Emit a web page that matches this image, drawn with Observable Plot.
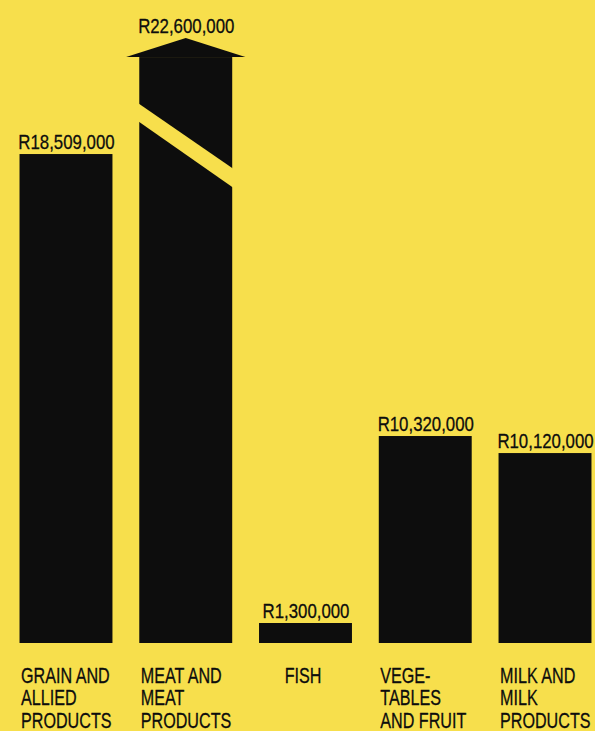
<!DOCTYPE html>
<html>
<head>
<meta charset="utf-8">
<script src="https://cdn.jsdelivr.net/npm/d3@7"></script>
<script src="https://cdn.jsdelivr.net/npm/@observablehq/plot@0.6"></script>
<style>
  html, body { margin: 0; padding: 0; background: #f7df4c; }
  #chart { width: 595px; height: 731px; overflow: hidden; }
</style>
</head>
<body>
<div id="chart"></div>
<script>
// ---- data ----
const categories = [
  "GRAIN AND\nALLIED\nPRODUCTS",
  "MEAT AND\nMEAT\nPRODUCTS",
  "FISH",
  "VEGE-\nTABLES\nAND FRUIT",
  "MILK AND\nMILK\nPRODUCTS"
];
// values printed above the bars (Rand)
const values = [18509000, 22600000, 1300000, 10320000, 10120000];
// bar lengths as actually drawn in the picture (the original is not to scale),
// read on the same vertical scale as the grain bar
const drawnHeights = [18509000, 22180000, 757000, 7835000, 7190000];
// the meat bar is broken and ends in an arrow whose tip reaches this level
const meatArrowTip = 22900000;

// ---- styling ----
const bg = "#f7df4c";
const ink = "#0d0d0d";
const font = "'Liberation Sans', Arial, sans-serif";
const hw = 0.388;          // half bar width, in category-index units
const overhang = 0.11;     // arrow head overhang beyond the bar
const meatIndex = 1;
const valueSize = 21, labelSize = 21.5;
const squeeze = {21: 0.8, 21.5: 0.75}; // condensed look, by font size

const data = categories.map((c, i) => ({
  i, category: c, value: values[i], drawn: drawnHeights[i]
}));

const meat = data[meatIndex];
const arrow = [
  {x: meatIndex - hw - overhang, y1: meat.drawn, y2: meat.drawn},
  {x: meatIndex,                 y1: meat.drawn, y2: meatArrowTip},
  {x: meatIndex + hw + overhang, y1: meat.drawn, y2: meat.drawn}
];
const brk = {leftHi: 20400000, rightHi: 17980000, leftLo: 19720000, rightLo: 17260000};
const ext = 0.03;
const slopeHi = (brk.rightHi - brk.leftHi) / (2 * hw);
const slopeLo = (brk.rightLo - brk.leftLo) / (2 * hw);
const breakBand = [
  {x: meatIndex - hw - ext, y1: brk.leftLo - slopeLo * ext, y2: brk.leftHi - slopeHi * ext},
  {x: meatIndex + hw + ext, y1: brk.rightLo + slopeLo * ext, y2: brk.rightHi + slopeHi * ext}
];

const fmt = d3.format(",");
const textStyle = {fill: ink, stroke: ink, strokeWidth: 0.3};

const chart = Plot.plot({
  width: 595,
  height: 731,
  marginTop: 0,
  marginBottom: 88,
  marginLeft: 0,
  marginRight: 0,
  x: {type: "linear", domain: [-0.551, 4.4175], axis: null},
  y: {domain: [0, 24340000], axis: null},
  style: {background: bg, fontFamily: font, color: ink},
  marks: [
    Plot.rect(data, {x1: d => d.i - hw, x2: d => d.i + hw, y1: 0, y2: "drawn", fill: ink}),
    Plot.areaY(arrow, {x: "x", y1: "y1", y2: "y2", fill: ink}),
    Plot.areaY(breakBand, {x: "x", y1: "y1", y2: "y2", fill: bg}),
    Plot.text(data, {
      x: "i",
      y: d => d.i === meatIndex ? meatArrowTip : d.drawn,
      text: d => "R" + fmt(d.value),
      dy: -6, lineAnchor: "bottom", fontSize: valueSize, ...textStyle
    }),
    Plot.text(data.filter(d => d.category.includes("\n")), {
      x: d => d.i - hw, text: "category", frameAnchor: "bottom",
      dy: 23.5, dx: 1, lineAnchor: "top", textAnchor: "start",
      lineHeight: 1.04, fontSize: labelSize, ...textStyle
    }),
    Plot.text(data.filter(d => !d.category.includes("\n")), {
      x: "i", text: "category", frameAnchor: "bottom",
      dy: 23.5, dx: -3, lineAnchor: "top", textAnchor: "middle",
      lineHeight: 1.04, fontSize: labelSize, ...textStyle
    })
  ]
});
document.getElementById("chart").appendChild(chart);

// condense the type (no condensed face is installed)
chart.querySelectorAll("text").forEach(t => {
  const g = t.closest("[font-size]");
  const f = squeeze[+(g && g.getAttribute("font-size"))] || 0.8;
  const parts = t.querySelectorAll("tspan");
  (parts.length ? parts : [t]).forEach(el => {
    const w = el.getComputedTextLength();
    el.setAttribute("textLength", (w * f).toFixed(2));
    el.setAttribute("lengthAdjust", "spacingAndGlyphs");
  });
});
</script>
</body>
</html>
